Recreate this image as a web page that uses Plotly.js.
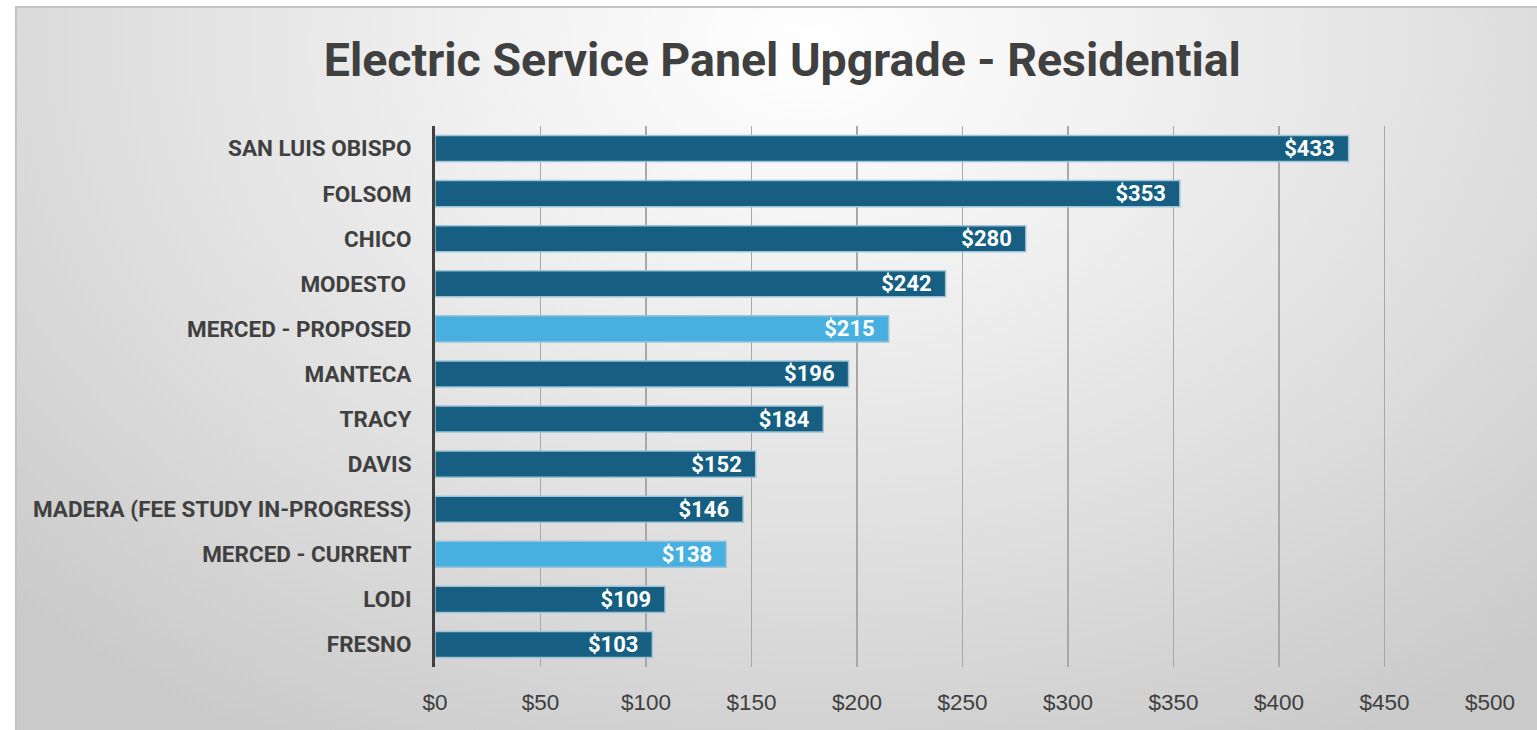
<!DOCTYPE html>
<html><head><meta charset="utf-8">
<script src="https://cdn.plot.ly/plotly-3.0.1.min.js"></script>
<style>
html,body{margin:0;padding:0;width:1537px;height:730px;overflow:hidden;background:#fff;}
#bg{position:absolute;left:15px;top:6px;width:1530px;height:730px;border-top:2px solid #c4c4c4;border-left:2px solid #c4c4c4;
background:radial-gradient(ellipse 1100px 800px at 790px 40px,#ffffff 0%,#eeeeee 35%,#dedede 65%,#cacaca 100%);}
#chart{position:absolute;left:0;top:0;width:1537px;height:730px;}
</style></head><body>
<div id="bg"></div>
<div id="chart"></div>
<script>
const categories = ["SAN LUIS OBISPO","FOLSOM","CHICO","MODESTO ","MERCED - PROPOSED","MANTECA","TRACY","DAVIS","MADERA (FEE STUDY IN-PROGRESS)","MERCED - CURRENT","LODI","FRESNO"];
const values = [433,353,280,242,215,196,184,152,146,138,109,103];
const highlighted = ["MERCED - PROPOSED","MERCED - CURRENT"];
const tickValues = [0,50,100,150,200,250,300,350,400,450,500];
const tickLabels = ["$0","$50","$100","$150","$200","$250","$300","$350","$400","$450","$500"];
const titleText = "Electric Service Panel Upgrade - Residential";

const dark = "#165f82", light = "#47b0e0";
const colors = categories.map(c => highlighted.includes(c) ? light : dark);
const bold = "Roboto, 'Liberation Sans', sans-serif";

const trace = {
  type: "bar", orientation: "h",
  y: categories, x: values,
  width: 0.58,
  marker: {color: colors, line: {color: "#9cc3d8", width: 1.5}},
  text: values.map(v => "$" + v + "\u00a0\u00a0"),
  textposition: "inside", insidetextanchor: "end", constraintext: "none",
  textfont: {family: bold, size: 22, color: "#ffffff", weight: "bold"},
  cliponaxis: false, hoverinfo: "skip"
};

const layout = {
  width: 1537, height: 730,
  paper_bgcolor: "rgba(0,0,0,0)", plot_bgcolor: "rgba(0,0,0,0)",
  margin: {l: 435, r: 47, t: 126, b: 63},
  title: {text: "<b>" + titleText + "</b>", x: 0.509, xanchor: "center", y: 0.918, yanchor: "middle",
          font: {family: bold, size: 46.5, color: "#404040"}},
  showlegend: false,
  xaxis: {range: [0, 500], tickvals: tickValues, ticktext: tickLabels, showgrid: true,
          gridcolor: "#a8a8a8", gridwidth: 1.3, zeroline: false, showline: false, ticks: "",
          ticklabelstandoff: 19, tickfont: {family: "'Liberation Sans', Arial, sans-serif", size: 22.5, color: "#404040"},
          fixedrange: true},
  yaxis: {type: "category", autorange: "reversed", showgrid: false, zeroline: false,
          showline: true, linecolor: "#404040", linewidth: 3, ticks: "",
          ticklabelstandoff: 16, tickfont: {family: bold, size: 22.5, color: "#404040", weight: "bold"},
          fixedrange: true}
};
Plotly.newPlot("chart", [trace], layout, {staticPlot: true, displayModeBar: false});
</script>
</body></html>
